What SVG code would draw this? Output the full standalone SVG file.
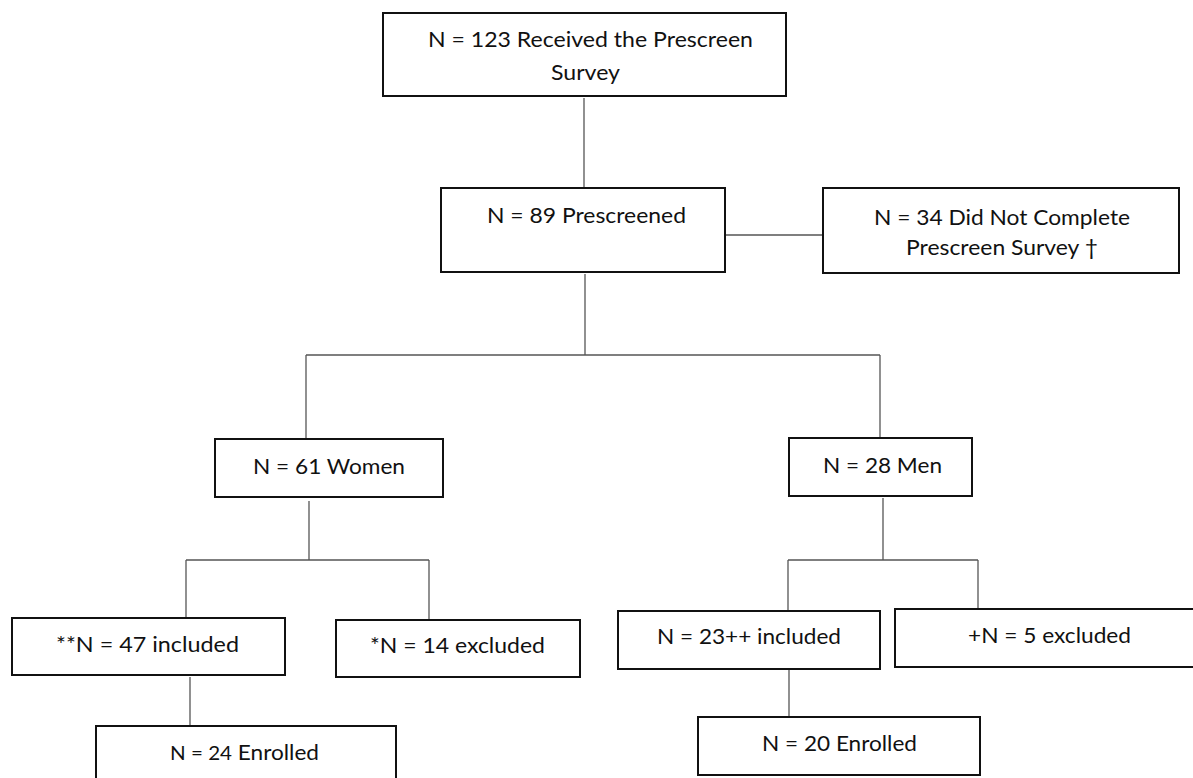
<svg xmlns="http://www.w3.org/2000/svg" width="1193" height="778" viewBox="0 0 1193 778">
<style>
.box{fill:#fff;stroke:#111;stroke-width:2}
.t{font-family:Lato,"Open Sans","Liberation Sans",sans-serif;font-size:22px;fill:#111}
.c{fill:none;stroke:#555;stroke-width:1.3}
</style>
<rect x="0" y="0" width="1193" height="778" fill="#fff"/>
<g id="connectors">
<path class="c" d="M584 98V188"/>
<path class="c" d="M725 235H823"/>
<path class="c" d="M585 274V355"/>
<path class="c" d="M306 355H880"/>
<path class="c" d="M306 355V439"/>
<path class="c" d="M880 355V438"/>
<path class="c" d="M309 501V560"/>
<path class="c" d="M186 560H429"/>
<path class="c" d="M186 560V618"/>
<path class="c" d="M429 560V620"/>
<path class="c" d="M190 677V726"/>
<path class="c" d="M883 498V560"/>
<path class="c" d="M788 560H978"/>
<path class="c" d="M788 560V611"/>
<path class="c" d="M978 560V609"/>
<path class="c" d="M789 669V717"/>
</g>
<g id="n-received">
<rect class="box" x="383" y="13" width="403" height="83"/>
<text class="t" x="428" y="47" textLength="325" lengthAdjust="spacingAndGlyphs">N = 123 Received the Prescreen</text>
<text class="t" x="551" y="80" textLength="69" lengthAdjust="spacingAndGlyphs">Survey</text>
</g>
<g id="n-prescreened">
<rect class="box" x="441" y="188" width="284" height="84"/>
<text class="t" x="487" y="223" textLength="199" lengthAdjust="spacingAndGlyphs">N = 89 Prescreened</text>
</g>
<g id="n-notcomplete">
<rect class="box" x="823" y="188" width="356" height="85"/>
<text class="t" x="874" y="225" textLength="256" lengthAdjust="spacingAndGlyphs">N = 34 Did Not Complete</text>
<text class="t" x="906" y="255" textLength="192" lengthAdjust="spacingAndGlyphs">Prescreen Survey †</text>
</g>
<g id="n-women">
<rect class="box" x="215" y="439" width="228" height="58"/>
<text class="t" x="253" y="474" textLength="152" lengthAdjust="spacingAndGlyphs">N = 61 Women</text>
</g>
<g id="n-men">
<rect class="box" x="789" y="438" width="183" height="58"/>
<text class="t" x="823" y="473" textLength="119" lengthAdjust="spacingAndGlyphs">N = 28 Men</text>
</g>
<g id="n-incl47">
<rect class="box" x="12" y="618" width="273" height="57"/>
<text class="t" x="56" y="652" textLength="183" lengthAdjust="spacingAndGlyphs">**N = 47 included</text>
</g>
<g id="n-excl14">
<rect class="box" x="336" y="620" width="244" height="57"/>
<text class="t" x="370" y="653" textLength="175" lengthAdjust="spacingAndGlyphs">*N = 14 excluded</text>
</g>
<g id="n-enr24">
<rect class="box" x="96" y="726" width="300" height="70"/>
<text class="t" x="170" y="760" textLength="149" lengthAdjust="spacingAndGlyphs"><tspan font-size="20">N = 24</tspan> Enrolled</text>
</g>
<g id="n-incl23">
<rect class="box" x="618" y="611" width="262" height="58"/>
<text class="t" x="657" y="644" textLength="184" lengthAdjust="spacingAndGlyphs">N = 23++ included</text>
</g>
<g id="n-excl5">
<rect class="box" x="895" y="609" width="310" height="58"/>
<text class="t" x="968" y="643" textLength="163" lengthAdjust="spacingAndGlyphs">+N = 5 excluded</text>
</g>
<g id="n-enr20">
<rect class="box" x="698" y="717" width="282" height="58"/>
<text class="t" x="762" y="751" textLength="155" lengthAdjust="spacingAndGlyphs">N = 20 Enrolled</text>
</g>
</svg>
